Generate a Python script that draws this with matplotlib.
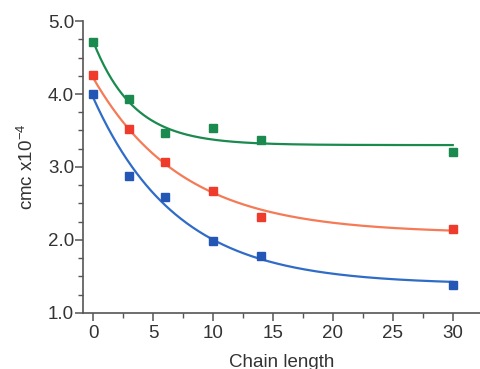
import numpy as np
import matplotlib
matplotlib.use("Agg")
import matplotlib.pyplot as plt
from matplotlib.ticker import MultipleLocator

chain_length = [0, 3, 6, 10, 14, 30]
green_vals = [4.71, 3.93, 3.47, 3.53, 3.37, 3.21]
red_vals = [4.26, 3.52, 3.07, 2.67, 2.31, 2.15]
blue_vals = [4.00, 2.87, 2.59, 1.99, 1.78, 1.38]

# exponential-decay fit parameters: (offset, amplitude, decay length)
green_fit = (3.30, 1.42, 3.4)
red_fit = (2.09, 2.13, 7.45)
blue_fit = (1.39, 2.56, 7.0)

plt.rcParams['font.family'] = ['Liberation Sans', 'DejaVu Sans']

fig = plt.figure(figsize=(4.81, 3.69), dpi=100)
ax = fig.add_axes([0.1726, 0.152, 0.826, 0.791])

xf = np.linspace(0, 30, 300)
series = [
    (green_vals, green_fit, '#1a8a4e', '#1a8a4e'),
    (red_vals, red_fit, '#f57a55', '#ee3b2b'),
    (blue_vals, blue_fit, '#2f6cc8', '#2457b5'),
]
for vals, (c, a, t), lc, mc in series:
    ax.plot(xf, c + a * np.exp(-xf / t), color=lc, lw=1.6, zorder=2)
    ax.plot(chain_length, vals, 's', color=mc, ms=5.3, mec=mc, zorder=3, ls='none')

ax.set_xlim(-0.85, 32.3)
ax.set_ylim(1.0, 5.0)
ax.xaxis.set_major_locator(MultipleLocator(5))
ax.xaxis.set_minor_locator(MultipleLocator(2.5))
ax.yaxis.set_major_locator(MultipleLocator(1.0))
ax.yaxis.set_minor_locator(MultipleLocator(0.25))
ax.yaxis.set_major_formatter(matplotlib.ticker.FormatStrFormatter('%.1f'))

for s in ['top', 'right']:
    ax.spines[s].set_visible(False)
for s in ['left', 'bottom']:
    ax.spines[s].set_color('#555555')
    ax.spines[s].set_linewidth(1.2)

ax.tick_params(which='major', direction='out', length=6, width=1.1, color='#555555',
               labelsize=13.5, labelcolor='#333333')
ax.tick_params(which='minor', direction='out', length=3.5, width=1.0, color='#555555')
ax.tick_params(axis='y', which='major', pad=0.5)
ax.tick_params(axis='x', which='major', pad=3)

ax.set_xlabel('Chain length', fontsize=13.5, color='#333333', labelpad=8)
ax.set_ylabel('cmc x10$^{\\mathregular{-4}}$', fontsize=13.5, color='#333333', labelpad=7.5)

fig.savefig('out.png', dpi=100)
